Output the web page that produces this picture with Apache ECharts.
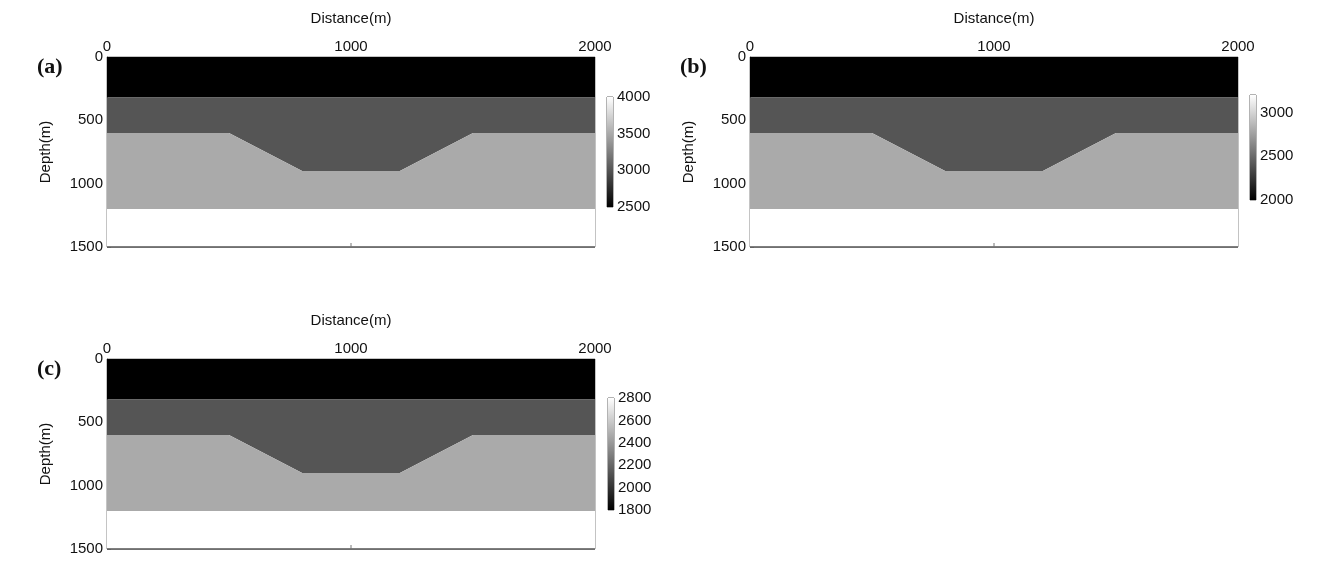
<!DOCTYPE html>
<html>
<head>
<meta charset="utf-8">
<script src="https://cdn.jsdelivr.net/npm/echarts@6/dist/echarts.min.js"></script>
<style>html,body{margin:0;padding:0;background:#fff}</style>
</head>
<body>
<div id="main" style="width:1325px;height:571px"></div>
<script>
// model geometry, distance / depth in metres
var distTicks = [0, 1000, 2000];
var depthTicks = [0, 500, 1000, 1500];
var layer1 = [[0, 0], [2000, 0], [2000, 320], [0, 320]];
var layer2 = [[0, 320], [2000, 320], [2000, 600], [1500, 600], [1200, 900], [800, 900], [500, 600], [0, 600]];
var layer3 = [[0, 600], [500, 600], [800, 900], [1200, 900], [1500, 600], [2000, 600], [2000, 1200], [0, 1200]];
var layer4 = [[0, 1200], [2000, 1200], [2000, 1500], [0, 1500]];
var layers = [layer1, layer2, layer3, layer4];

// values per layer for each panel, and colorbar ranges
var valsA = [2500, 3000, 3500, 4000];
var valsB = [2000, 2400, 2800, 3200];
var valsC = [1800, 2133, 2467, 2800];
var rangeA = [2500, 4000, 500];
var rangeB = [2000, 3200, 500];
var rangeC = [1800, 2800, 200];
var panelLabels = ['(a)', '(b)', '(c)'];

function gray(v, r) {
  var g = Math.round((v - r[0]) / (r[1] - r[0]) * 255);
  return 'rgb(' + g + ',' + g + ',' + g + ')';
}

var panels = [
  { vals: valsA, range: rangeA, left: 107, top: 57, cbLeft: 607, cbTop: 97, cbH: 110 },
  { vals: valsB, range: rangeB, left: 750, top: 57, cbLeft: 1250, cbTop: 95, cbH: 105 },
  { vals: valsC, range: rangeC, left: 107, top: 359, cbLeft: 608, cbTop: 398, cbH: 112 }
];

var grid = [], xAxis = [], yAxis = [], series = [], graphic = [];
var txt = { color: '#111', fontFamily: 'Liberation Sans', fontSize: 15 };
var plain = function (v) { return String(v); };

panels.forEach(function (p, i) {
  var g = grid.length;
  grid.push({ left: p.left, top: p.top, width: 488, height: 190, show: true, borderColor: '#888', borderWidth: 1, backgroundColor: '#fff' });
  xAxis.push({
    gridIndex: g, type: 'value', position: 'top', min: 0, max: 2000, interval: 1000,
    name: 'Distance(m)', nameLocation: 'middle', nameGap: 31, nameTextStyle: txt,
    axisLabel: Object.assign({ margin: 3, formatter: plain }, txt), axisLine: { show: false },
    axisTick: { show: false }, splitLine: { show: false }
  });
  yAxis.push({
    gridIndex: g, type: 'value', inverse: true, min: 0, max: 1500, interval: 500,
    name: 'Depth(m)', nameLocation: 'middle', nameGap: 54, nameRotate: 90, nameTextStyle: txt,
    axisLabel: Object.assign({ margin: 4, formatter: plain }, txt), axisLine: { show: true, lineStyle: { color: '#666' } },
    axisTick: { show: true, inside: true, length: 4, lineStyle: { color: '#888' } }, splitLine: { show: false }
  });
  series.push({
    type: 'custom', xAxisIndex: g, yAxisIndex: g, silent: true,
    data: layers.map(function (l, k) { return [k]; }),
    renderItem: function (params, api) {
      var k = api.value(0);
      var pts = layers[k].map(function (pt) { return api.coord(pt); });
      return { type: 'polygon', shape: { points: pts }, style: { fill: gray(p.vals[k], p.range) } };
    }
  });
  // bottom edge line
  series.push({
    type: 'custom', xAxisIndex: g, yAxisIndex: g, silent: true, data: [[0]],
    renderItem: function (params, api) {
      var a = api.coord([0, 1500]), b = api.coord([2000, 1500]), m = api.coord([1000, 1500]);
      return { type: 'group', children: [
        { type: 'line', shape: { x1: a[0], y1: a[1], x2: b[0], y2: b[1] }, style: { stroke: '#555', lineWidth: 1.5 } },
        { type: 'line', shape: { x1: m[0], y1: m[1], x2: m[0], y2: m[1] - 4 }, style: { stroke: '#777', lineWidth: 1 } }
      ] };
    }
  });
  // colorbar
  var c = grid.length;
  grid.push({ left: p.cbLeft, top: p.cbTop, width: 6, height: p.cbH, show: true, borderColor: '#666', borderWidth: 1 });
  xAxis.push({ gridIndex: c, type: 'value', min: 0, max: 1, show: false });
  yAxis.push({
    gridIndex: c, type: 'value', position: 'right', min: p.range[0], max: p.range[1], interval: p.range[2],
    axisLabel: Object.assign({ margin: 4, formatter: plain, showMaxLabel: (p.range[1] - p.range[0]) % p.range[2] === 0 }, txt),
    axisLine: { show: false }, axisTick: { show: false }, splitLine: { show: false }
  });
  series.push({
    type: 'custom', xAxisIndex: c, yAxisIndex: c, silent: true, data: [[0]],
    renderItem: function (params, api) {
      var a = api.coord([0, p.range[1]]), b = api.coord([1, p.range[0]]);
      return {
        type: 'rect', shape: { x: a[0], y: a[1], width: b[0] - a[0], height: b[1] - a[1] },
        style: { fill: new echarts.graphic.LinearGradient(0, 0, 0, 1, [{ offset: 0, color: '#fff' }, { offset: 1, color: '#000' }]) }
      };
    }
  });
  graphic.push({
    type: 'text', left: p.left - 70, top: p.top - 1,
    style: { text: panelLabels[i], font: 'bold 22px "Liberation Serif"', fill: '#111' }
  });
});

var chart = echarts.init(document.getElementById('main'));
chart.setOption({ animation: false, grid: grid, xAxis: xAxis, yAxis: yAxis, series: series, graphic: graphic });
</script>
</body>
</html>
